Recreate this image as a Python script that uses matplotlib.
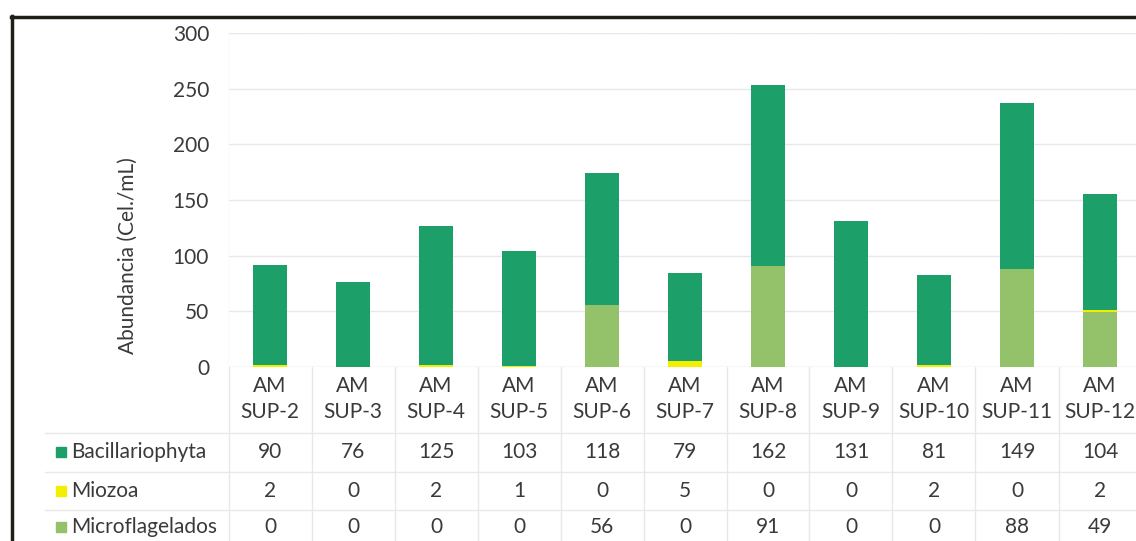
import matplotlib.pyplot as plt
import matplotlib.transforms as mtransforms
from matplotlib.lines import Line2D
from matplotlib.patches import Rectangle
import numpy as np

plt.rcParams['font.family'] = ['Lato', 'DejaVu Sans']

samples = ['SUP-2', 'SUP-3', 'SUP-4', 'SUP-5', 'SUP-6', 'SUP-7',
           'SUP-8', 'SUP-9', 'SUP-10', 'SUP-11', 'SUP-12']
bacillariophyta = [90, 76, 125, 103, 118, 79, 162, 131, 81, 149, 104]
miozoa = [2, 0, 2, 1, 0, 5, 0, 0, 2, 0, 2]
microflagelados = [0, 0, 0, 0, 56, 0, 91, 0, 0, 88, 49]
series_names = ['Bacillariophyta', 'Miozoa', 'Microflagelados']
colors = ['#1c9f68', '#f2f000', '#93c26b']
yticks = [0, 50, 100, 150, 200, 250, 300]

W, H = 1136, 541
txt = '#3a3a3a'
grid_c = '#e8e8e8'
fs = 15

fig = plt.figure(figsize=(W / 100, H / 100), dpi=100)
fig.patch.set_facecolor('white')

# plot area in pixels: x 228.5..1141.5 (cut by the image edge), y 33..367
ax = fig.add_axes([228.5 / W, 1 - 367 / H, 913 / W, 334 / H])
x = np.arange(len(samples))
bw = 0.42

b1 = np.array(microflagelados)
b2 = b1 + np.array(miozoa)
ax.bar(x, microflagelados, bw, color=colors[2], zorder=3)
ax.bar(x, miozoa, bw, bottom=b1, color=colors[1], zorder=3)
ax.bar(x, bacillariophyta, bw, bottom=b2, color=colors[0], zorder=3)

ax.set_xlim(-0.5, len(samples) - 0.5)
ax.set_ylim(0, 300)
ax.set_yticks(yticks)
ax.set_yticklabels([str(v) for v in yticks], fontsize=fs, color=txt)
ax.tick_params(axis='y', length=0, pad=14)
ax.set_xticks([])
for s in ax.spines.values():
    s.set_visible(False)
for v in yticks[1:]:
    ax.axhline(v, color=grid_c, lw=1, zorder=1)
ax.axhline(0, color='#d9d9d9', lw=1, zorder=1)

def fy(ypx):
    return 1 - ypx / H

fig.text(128 / W, fy(256), 'Abundancia (Cel./mL)', rotation=90, ha='center', va='center',
         fontsize=fs, color=txt)

# data table underneath, x in data units, y in figure pixels
tr = mtransforms.blended_transform_factory(ax.transData, fig.transFigure)

for xb in np.arange(-0.5, len(samples), 1.0):
    fig.add_artist(Line2D([xb, xb], [fy(33), fy(541)], transform=tr,
                          color=grid_c, lw=1, zorder=0))
for ypx in [433, 472, 510]:
    fig.add_artist(Line2D([45 / W, 1], [fy(ypx), fy(ypx)], transform=fig.transFigure,
                          color=grid_c, lw=1, zorder=0))

for i, s in enumerate(samples):
    fig.text(i, fy(386), 'AM', transform=tr, ha='center', va='center', fontsize=fs, color=txt)
    fig.text(i, fy(412), s, transform=tr, ha='center', va='center', fontsize=fs, color=txt)

rows = [bacillariophyta, miozoa, microflagelados]
row_y = [452, 491, 527]
for name, vals, c, ypx in zip(series_names, rows, colors, row_y):
    fig.add_artist(Rectangle((56 / W, fy(ypx + 5)), 10 / W, 10 / H,
                             transform=fig.transFigure, color=c))
    fig.text(71 / W, fy(ypx), name, ha='left', va='center', fontsize=fs, color=txt)
    for i, v in enumerate(vals):
        fig.text(i, fy(ypx), str(v), transform=tr, ha='center', va='center',
                 fontsize=fs, color=txt)

# outer frame of the pasted chart
fig.add_artist(Line2D([12 / W, 12 / W], [fy(16), 0], transform=fig.transFigure,
                      color='#1f1f17', lw=2.5))
fig.add_artist(Line2D([11 / W, 1], [fy(17), fy(17)], transform=fig.transFigure,
                      color='#1f1f17', lw=2.5))

fig.savefig('out.png', dpi=100)
